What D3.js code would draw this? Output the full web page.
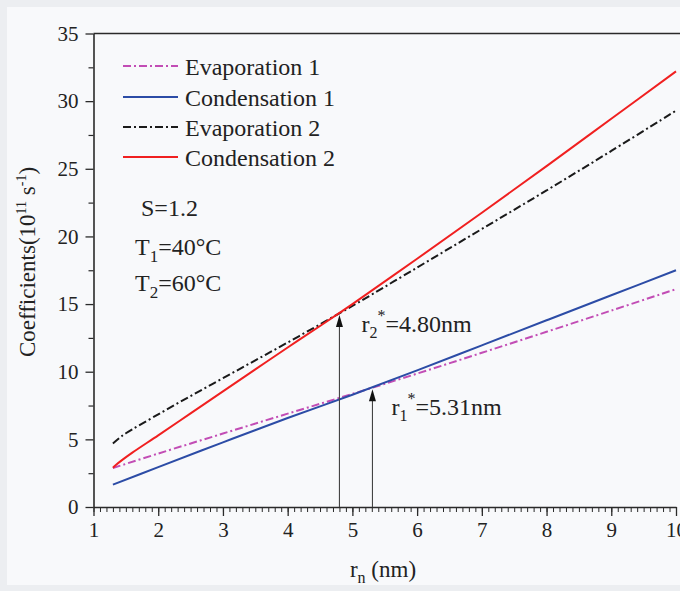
<!DOCTYPE html>
<html>
<head>
<meta charset="utf-8">
<script src="https://cdn.jsdelivr.net/npm/d3@7/dist/d3.min.js"></script>
<style>
  html, body { margin: 0; padding: 0; background: #eceef1; }
  svg { display: block; }
  text { font-family: "Liberation Serif", "Times New Roman", serif; fill: #222; }
</style>
</head>
<body>
<svg id="chart" width="680" height="591"></svg>
<script>
// ---- data ----
const rEvap1 = [1.3, 2, 3, 4, 5, 6, 7, 8, 9, 10];
const evap1  = [2.88, 3.95, 5.43, 6.9, 8.36, 9.86, 11.4, 12.95, 14.52, 16.1];

const rCond1 = [1.3, 2, 3, 4, 5, 6, 7, 8, 9, 10];
const cond1  = [1.65, 2.95, 4.78, 6.58, 8.3, 10.1, 11.95, 13.8, 15.65, 17.5];

const rEvap2 = [1.3, 1.4, 1.5, 2, 2.5, 3, 3.5, 4, 4.5, 4.8, 5, 6, 7, 8, 9, 10];
const evap2  = [4.7, 5.1, 5.45, 6.85, 8.2, 9.52, 10.84, 12.16, 13.5, 14.32, 14.86, 17.7, 20.55, 23.4, 26.32, 29.3];

const rCond2 = [1.3, 1.35, 1.45, 1.6, 2, 2.5, 3, 3.5, 4, 4.5, 4.8, 5, 6, 7, 8, 9, 10];
const cond2  = [2.9, 3.12, 3.5, 4.02, 5.3, 6.92, 8.55, 10.17, 11.79, 13.38, 14.35, 15.0, 18.35, 21.75, 25.2, 28.7, 32.2];

const seriesNames = ["Evaporation 1", "Condensation 1", "Evaporation 2", "Condensation 2"];
const xTicks = [1, 2, 3, 4, 5, 6, 7, 8, 9, 10];
const yTicks = [0, 5, 10, 15, 20, 25, 30, 35];
const arrowR = [4.80, 5.31];
const arrowV = [14.2, 8.7];
const arrowLabels = [["2", "=4.80nm"], ["1", "=5.31nm"]];

// ---- styles ----
const styles = [
  { color: "#c24db5", dash: "8,3,2,3" },
  { color: "#2c4ca6", dash: null },
  { color: "#1a1a1a", dash: "8,3,2,3" },
  { color: "#f02020", dash: null }
];
const seriesData = [
  rEvap1.map((r, i) => [r, evap1[i]]),
  rCond1.map((r, i) => [r, cond1[i]]),
  rEvap2.map((r, i) => [r, evap2[i]]),
  rCond2.map((r, i) => [r, cond2[i]])
];

const svg = d3.select("#chart");
svg.append("rect").attr("x", 7).attr("y", 7).attr("width", 680).attr("height", 578).attr("fill", "#f8f9fb");

const pL = 93.5, pR = 676, pT = 33.5, pB = 507;
const x = d3.scaleLinear().domain([1, 10]).range([pL, pR]);
const y = d3.scaleLinear().domain([0, 35]).range([pB, pT]);

const axisColor = "#2a2a2a";

// minor ticks
const xMinor = d3.range(1, 10.001, 0.1).map(v => +v.toFixed(1));
svg.append("g").attr("transform", `translate(0,${pB})`)
  .call(d3.axisBottom(x).tickValues(xMinor).tickSize(5).tickFormat(""))
  .call(g => g.select(".domain").remove())
  .call(g => g.selectAll("line").attr("stroke", axisColor).attr("stroke-width", 1));
const yMinor = d3.range(2.5, 35, 5);
svg.append("g").attr("transform", `translate(${pL},0)`)
  .call(d3.axisLeft(y).tickValues(yMinor).tickSize(5).tickFormat(""))
  .call(g => g.select(".domain").remove())
  .call(g => g.selectAll("line").attr("stroke", axisColor).attr("stroke-width", 1.2));

// major axes
const gx = svg.append("g").attr("transform", `translate(0,${pB})`)
  .call(d3.axisBottom(x).tickValues(xTicks).tickSize(9).tickSizeOuter(0).tickPadding(6).tickFormat(d3.format("d")));
gx.select(".domain").attr("stroke", axisColor).attr("stroke-width", 1.6);
gx.selectAll(".tick line").attr("stroke", axisColor).attr("stroke-width", 1.3);
gx.selectAll(".tick text").attr("font-size", 21).attr("font-family", "Liberation Serif").attr("fill", "#222");

const gy = svg.append("g").attr("transform", `translate(${pL},0)`)
  .call(d3.axisLeft(y).tickValues(yTicks).tickSize(8).tickSizeOuter(0).tickPadding(7).tickFormat(d3.format("d")));
gy.select(".domain").attr("stroke", axisColor).attr("stroke-width", 1.6);
gy.selectAll(".tick line").attr("stroke", axisColor).attr("stroke-width", 1.3);
gy.selectAll(".tick text").attr("font-size", 21).attr("font-family", "Liberation Serif").attr("fill", "#222");

// top frame line
svg.append("line").attr("x1", pL).attr("x2", 690).attr("y1", pT).attr("y2", pT)
  .attr("stroke", axisColor).attr("stroke-width", 1.6);

// curves
const line = d3.line().x(d => x(d[0])).y(d => y(d[1])).curve(d3.curveCatmullRom.alpha(0.5));
seriesData.forEach((d, i) => {
  svg.append("path").datum(d).attr("d", line)
    .attr("fill", "none").attr("stroke", styles[i].color).attr("stroke-width", 2)
    .attr("stroke-dasharray", styles[i].dash);
});

// arrows
arrowR.forEach((r, i) => {
  const xp = x(r), tip = y(arrowV[i]);
  svg.append("line").attr("x1", xp).attr("x2", xp).attr("y1", y(0)).attr("y2", tip + 8)
    .attr("stroke", "#444").attr("stroke-width", 1.1);
  svg.append("path").attr("d", `M${xp},${tip} L${xp - 3.5},${tip + 12} L${xp + 3.5},${tip + 12} Z`)
    .attr("fill", "#111");
});

// arrow labels
function rLabel(xp, yp, sub, rest) {
  const t = svg.append("text").attr("x", xp).attr("y", yp).attr("font-size", 24);
  t.append("tspan").text("r");
  t.append("tspan").attr("font-size", 16).attr("dy", 6).text(sub);
  t.append("tspan").attr("font-size", 16).attr("dy", -17).text("*");
  t.append("tspan").attr("dy", 11).text(rest);
}
rLabel(x(arrowR[0]) + 22, 332, arrowLabels[0][0], arrowLabels[0][1]);
rLabel(x(arrowR[1]) + 19, 415, arrowLabels[1][0], arrowLabels[1][1]);

// legend
const legY = [66, 97, 127, 157];
seriesNames.forEach((name, i) => {
  svg.append("line").attr("x1", 123).attr("x2", 178).attr("y1", legY[i]).attr("y2", legY[i])
    .attr("stroke", styles[i].color).attr("stroke-width", 2).attr("stroke-dasharray", styles[i].dash);
  svg.append("text").attr("x", 185).attr("y", legY[i] + 9).attr("font-size", 24).text(name);
});

// condition annotations
svg.append("text").attr("x", 141).attr("y", 216).attr("font-size", 24).text("S=1.2");
[["1", "=40°C", 255], ["2", "=60°C", 291]].forEach(([s, rest, yy]) => {
  const t = svg.append("text").attr("x", 135).attr("y", yy).attr("font-size", 24);
  t.append("tspan").text("T");
  t.append("tspan").attr("font-size", 17).attr("dy", 7).text(s);
  t.append("tspan").attr("dy", -7).text(rest);
});

// axis titles
const yt = svg.append("text").attr("transform", "translate(35,262) rotate(-90)")
  .attr("text-anchor", "middle").attr("font-size", 23);
yt.append("tspan").text("Coefficients(10");
yt.append("tspan").attr("font-size", 14).attr("dy", -9).text("11");
yt.append("tspan").attr("dy", 9).text(" s");
yt.append("tspan").attr("font-size", 14).attr("dy", -9).text("-1");
yt.append("tspan").attr("dy", 9).text(")");

const xt = svg.append("text").attr("x", 383).attr("y", 577).attr("text-anchor", "middle").attr("font-size", 23);
xt.append("tspan").text("r");
xt.append("tspan").attr("font-size", 16).attr("dy", 6).text("n");
xt.append("tspan").attr("dy", -6).text(" (nm)");
</script>
</body>
</html>
